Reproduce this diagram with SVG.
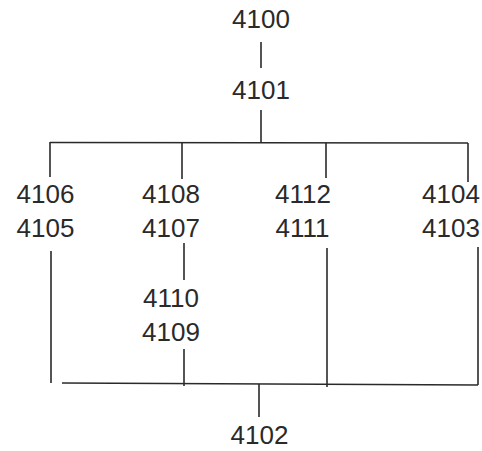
<svg xmlns="http://www.w3.org/2000/svg" width="482" height="451" viewBox="0 0 482 451">
<style>
text{font-family:"Liberation Sans",Arial,sans-serif;font-size:26px;fill:#2a2a2a;text-anchor:middle}
.c line{stroke:#2a2a2a;stroke-width:1.6;stroke-linecap:butt}
</style>
<rect width="482" height="451" fill="#fff"/>
<g class="c" id="connectors">
<line x1="261" y1="42" x2="261" y2="68"/>
<line x1="261" y1="110" x2="261" y2="143"/>
<line x1="50" y1="142.5" x2="468" y2="143"/>
<line x1="50" y1="142" x2="50" y2="177"/>
<line x1="182" y1="142" x2="182" y2="179"/>
<line x1="326" y1="143" x2="326" y2="178"/>
<line x1="468" y1="143" x2="468" y2="182"/>
<line x1="51" y1="251" x2="51" y2="383"/>
<line x1="184" y1="243" x2="184" y2="280"/>
<line x1="184" y1="349" x2="184" y2="386"/>
<line x1="327" y1="248" x2="327" y2="387"/>
<line x1="478" y1="247" x2="478" y2="385"/>
<line x1="62" y1="383" x2="478" y2="385"/>
<line x1="259" y1="384" x2="259" y2="417"/>
</g>
<g id="n4100"><text x="261" y="28">4100</text></g>
<g id="n4101"><text x="261" y="99">4101</text></g>
<g id="n4106"><text x="45.5" y="203">4106</text></g>
<g id="n4105"><text x="45.5" y="237">4105</text></g>
<g id="n4108"><text x="171" y="203">4108</text></g>
<g id="n4107"><text x="171" y="237">4107</text></g>
<g id="n4112"><text x="303" y="203">4112</text></g>
<g id="n4111"><text x="302.5" y="237">4111</text></g>
<g id="n4104"><text x="451" y="203">4104</text></g>
<g id="n4103"><text x="451" y="237">4103</text></g>
<g id="n4110"><text x="171" y="307">4110</text></g>
<g id="n4109"><text x="171" y="341">4109</text></g>
<g id="n4102"><text x="259.5" y="444">4102</text></g>
</svg>
